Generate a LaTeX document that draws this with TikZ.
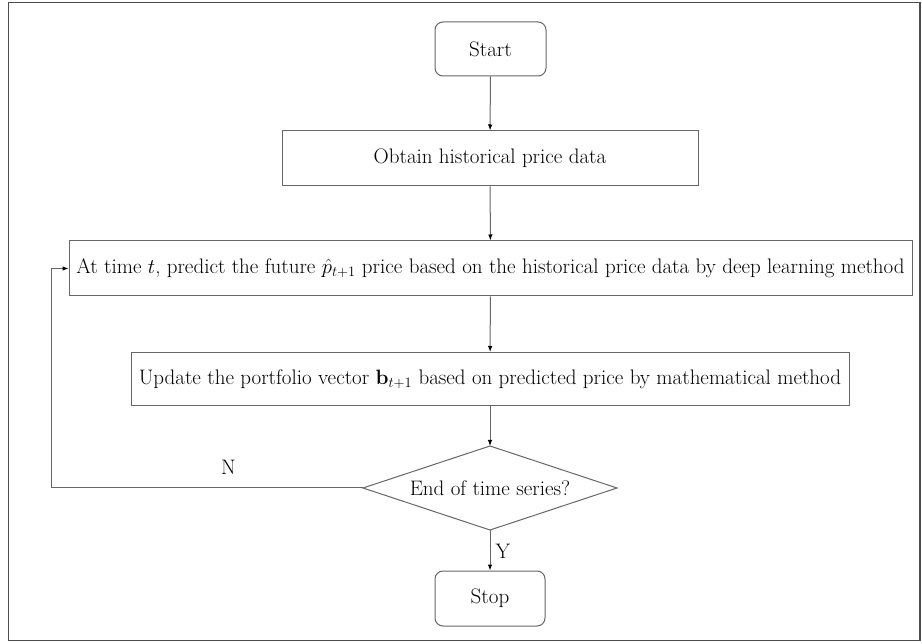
\documentclass[tikz,border=0pt]{standalone}
\usepackage{amsmath}
\usetikzlibrary{arrows.meta}
\begin{document}
\begin{tikzpicture}[x=1pt,y=-1pt,
  every node/.style={font=\fontsize{21}{25}\selectfont, inner sep=0pt},
  boxline/.style={draw=black!60, line width=1pt},
  termbox/.style={boxline, rectangle, rounded corners=8pt},
  procbox/.style={boxline, rectangle},
  flow/.style={draw=black!60, line width=1pt, -{Latex[length=6pt,width=4.5pt,color=black]}},
  lbl/.style={font=\fontsize{21}{25}\selectfont}
]
\useasboundingbox (0,0) rectangle (922,644);
\draw[draw=black!70, line width=1.8pt] (8.5,2.5) rectangle (920,640.5);

\node[termbox, minimum width=111pt, minimum height=54pt] (start) at (490.5,49) {Start};
\node[procbox, minimum width=416pt, minimum height=55pt] (obtain) at (490,158.5) {Obtain historical price data};
\node[procbox, minimum width=843pt, minimum height=55pt] (predict) at (490.5,268.5) {At time $t$, predict the future $\hat{p}_{t+1}$ price based on the historical price data by deep learning method};
\node[procbox, minimum width=718pt, minimum height=53pt] (update) at (490,379) {Update the portfolio vector $\mathbf{b}_{t+1}$ based on predicted price by mathematical method};
\node (dec) at (490,488) {End of time series?};
\coordinate (dtop) at (490,446);
\coordinate (dbot) at (490,530);
\coordinate (dleft) at (363,488);
\coordinate (dright) at (617,488);
\draw[boxline, line join=miter] (dtop) -- (dright) -- (dbot) -- (dleft) -- cycle;
\node[termbox, minimum width=110pt, minimum height=55pt] (stop) at (490,598.5) {Stop};

\coordinate (lb) at (51,488);
\coordinate (lt) at (51,268.5);

\draw[flow] (start) -- (obtain);
\draw[flow] (obtain) -- (predict);
\draw[flow] (predict) -- (update);
\draw[flow] (update) -- (dtop);
\draw[flow] (dbot) -- (stop);
\draw[flow] (dleft) -- (lb) -- (lt) -- (predict.west);

\node[lbl] (nlab) at (228.5,467.5) {N};
\node[lbl] (ylab) at (503,551.5) {Y};
\end{tikzpicture}
\end{document}
